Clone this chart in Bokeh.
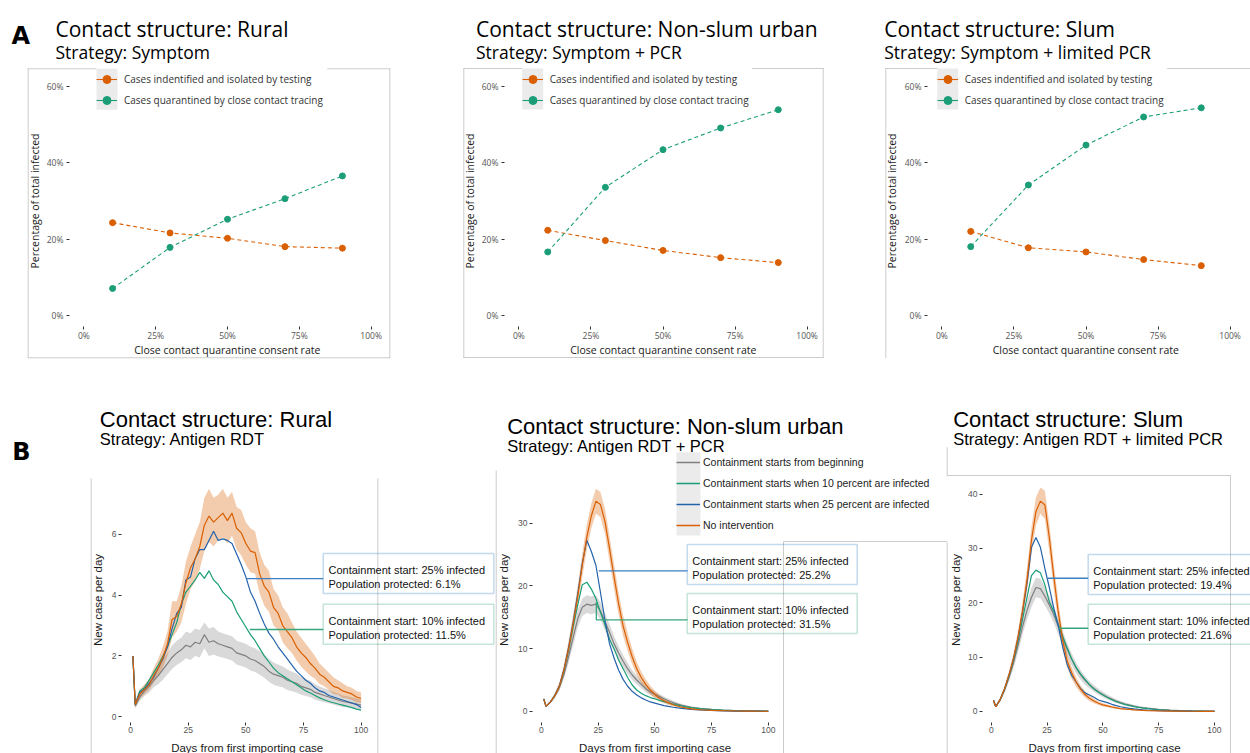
from bokeh.plotting import figure
from bokeh.models import (Range1d, FixedTicker, NumeralTickFormatter, Label,
                          BoxAnnotation, Legend, LegendItem, GridBox)
from bokeh.layouts import row, column
from bokeh.embed import file_html
from bokeh.resources import INLINE

# ============================ DATA ============================
# Panel A: share of all infections vs close-contact quarantine consent rate
consent_rate = [0.1, 0.3, 0.5, 0.7, 0.9]
consent_ticks = [0, 0.25, 0.5, 0.75, 1.0]
share_ticks = [0, 0.2, 0.4, 0.6]

rural_isolated = [0.243, 0.216, 0.202, 0.180, 0.176]
rural_quarantined = [0.070, 0.178, 0.252, 0.306, 0.366]
urban_isolated = [0.223, 0.196, 0.170, 0.151, 0.138]
urban_quarantined = [0.166, 0.336, 0.435, 0.492, 0.540]
slum_isolated = [0.220, 0.177, 0.166, 0.146, 0.130]
slum_quarantined = [0.180, 0.342, 0.447, 0.521, 0.545]

a_labels = ["Cases indentified and isolated by testing",
            "Cases quarantined by close contact tracing"]

# Panel B: new cases per day
day_ticks = [0, 25, 50, 75, 100]
b_labels = ["Containment starts from beginning",
            "Containment starts when 10 percent are infected",
            "Containment starts when 25 percent are infected",
            "No intervention"]

rural_days = [1, 2, 4, 6, 8, 10, 12, 14, 16, 18, 20, 22, 24, 26, 28, 30, 32, 34, 36, 38,
              40, 42, 44, 46, 48, 50, 52, 54, 56, 58, 60, 62, 64, 66, 68, 70, 72, 74, 76, 78,
              80, 82, 84, 86, 88, 90, 92, 94, 96, 98, 100]
rural_none = [2.0, 0.4, 0.75, 0.9, 1.05, 1.35, 1.6, 1.95, 2.4, 3.2, 3.3, 3.7, 4.4, 4.9, 5.2, 5.6,
              6.3, 6.6, 6.4, 6.55, 6.7, 6.45, 6.7, 6.2, 6.05, 5.7, 5.45, 5.4, 4.7, 4.3, 4.1, 3.6,
              3.4, 3.0, 2.8, 2.6, 2.3, 2.1, 1.95, 1.75, 1.6, 1.4, 1.3, 1.15, 1.0, 0.95, 0.85, 0.8,
              0.75, 0.65, 0.6]
rural_none_hi = [2.0, 0.5, 0.9, 1.05, 1.25, 1.6, 1.9, 2.3, 2.8, 3.8, 3.8, 4.3, 5.1, 5.6, 6.0, 6.4,
                 7.2, 7.5, 7.2, 7.3, 7.5, 7.2, 7.4, 6.9, 6.8, 6.4, 6.2, 6.1, 5.4, 5.0, 4.8, 4.2,
                 4.0, 3.6, 3.4, 3.1, 2.8, 2.6, 2.4, 2.2, 2.0, 1.75, 1.6, 1.45, 1.3, 1.2, 1.1, 1.0,
                 0.95, 0.85, 0.8]
rural_none_lo = [2.0, 0.3, 0.6, 0.75, 0.88, 1.12, 1.33, 1.62, 2.0, 2.6, 2.8, 3.1, 3.7, 4.2, 4.45,
                 4.85, 5.45, 5.75, 5.6, 5.8, 5.9, 5.7, 5.95, 5.5, 5.3, 5.0, 4.75, 4.7, 4.05, 3.65,
                 3.45, 3.0, 2.85, 2.45, 2.25, 2.1, 1.85, 1.65, 1.5, 1.35, 1.25, 1.08, 1.0, 0.88,
                 0.75, 0.72, 0.62, 0.6, 0.55, 0.48, 0.45]
rural_at25 = [2.0, 0.4, 0.8, 0.9, 1.1, 1.3, 1.6, 1.9, 2.3, 2.9, 3.4, 3.6, 4.5, 4.6, 5.2, 5.5, 5.5,
              5.8, 6.1, 5.8, 5.85, 5.8, 5.7, 5.35, 5.0, 4.6, 4.1, 3.8, 3.4, 3.05, 2.75, 2.55, 2.3,
              2.1, 1.9, 1.7, 1.5, 1.35, 1.2, 1.1, 0.95, 0.85, 0.8, 0.7, 0.65, 0.6, 0.55, 0.5,
              0.45, 0.4, 0.3]
rural_at10 = [2.0, 0.4, 0.85, 0.95, 1.2, 1.45, 1.7, 2.0, 2.3, 2.7, 3.1, 3.7, 4.1, 4.3, 4.5, 4.75,
              4.55, 4.8, 4.5, 4.35, 4.1, 3.95, 3.8, 3.45, 3.2, 2.95, 2.7, 2.5, 2.25, 2.0, 1.8,
              1.6, 1.45, 1.35, 1.25, 1.15, 1.05, 0.95, 0.85, 0.78, 0.7, 0.62, 0.56, 0.5, 0.46,
              0.42, 0.38, 0.34, 0.3, 0.25, 0.22]
rural_start = [2.0, 0.35, 0.65, 0.85, 1.0, 1.2, 1.35, 1.55, 1.75, 1.95, 2.1, 2.2, 2.35, 2.3, 2.45,
               2.4, 2.7, 2.45, 2.5, 2.4, 2.35, 2.3, 2.25, 2.1, 2.05, 2.0, 1.9, 1.85, 1.75, 1.65,
               1.5, 1.4, 1.35, 1.3, 1.2, 1.15, 1.1, 1.0, 0.95, 0.9, 0.8, 0.75, 0.7, 0.65, 0.6,
               0.55, 0.5, 0.48, 0.45, 0.42, 0.38]
rural_start_hi = [2.0, 0.45, 0.8, 1.05, 1.22, 1.45, 1.65, 1.9, 2.1, 2.35, 2.5, 2.6, 2.8, 2.75, 2.9,
                  2.85, 3.1, 2.9, 2.95, 2.8, 2.75, 2.7, 2.65, 2.5, 2.45, 2.4, 2.3, 2.25, 2.15,
                  2.05, 1.9, 1.78, 1.72, 1.65, 1.55, 1.48, 1.42, 1.3, 1.24, 1.18, 1.07, 1.0, 0.94,
                  0.88, 0.82, 0.76, 0.7, 0.67, 0.63, 0.6, 0.55]
rural_start_lo = [2.0, 0.27, 0.52, 0.68, 0.8, 0.97, 1.07, 1.22, 1.4, 1.57, 1.7, 1.8, 1.92, 1.87,
                  2.0, 1.95, 2.25, 2.0, 2.05, 1.98, 1.95, 1.9, 1.85, 1.72, 1.67, 1.62, 1.52, 1.47,
                  1.38, 1.28, 1.15, 1.05, 1.0, 0.97, 0.88, 0.84, 0.8, 0.72, 0.68, 0.64, 0.56,
                  0.52, 0.48, 0.44, 0.4, 0.36, 0.32, 0.31, 0.29, 0.26, 0.23]

city_days = [1, 2, 4, 6, 8, 10, 12, 14, 16, 18, 20, 22, 24, 26, 28, 30, 32, 34, 36, 38, 40, 42,
             44, 46, 48, 50, 52, 54, 56, 58, 60, 62, 64, 66, 68, 70, 75, 80, 85, 90, 95, 100]

urban_none = [2.0, 0.8, 1.5, 2.6, 4.1, 6.7, 10.1, 14.0, 18.3, 23.3, 27.8, 31.2, 33.5, 33.0, 30.3,
              26.0, 21.5, 17.2, 13.6, 11.0, 8.7, 6.8, 5.4, 4.3, 3.4, 2.7, 2.1, 1.7, 1.35, 1.05,
              0.85, 0.65, 0.5, 0.4, 0.3, 0.25, 0.15, 0.1, 0.06, 0.04, 0.02, 0.01]
urban_none_hi = [2.0, 0.9, 1.7, 3.0, 4.7, 7.6, 11.3, 15.5, 20.0, 25.2, 29.8, 33.2, 35.5, 35.0,
                 32.3, 28.0, 23.5, 19.0, 15.3, 12.5, 10.0, 7.9, 6.3, 5.1, 4.1, 3.3, 2.6, 2.1, 1.7,
                 1.35, 1.1, 0.85, 0.68, 0.55, 0.43, 0.36, 0.23, 0.16, 0.1, 0.07, 0.04, 0.02]
urban_none_lo = [2.0, 0.7, 1.3, 2.2, 3.5, 5.8, 8.9, 12.5, 16.6, 21.4, 25.8, 29.2, 31.5, 31.0, 28.3,
                 24.0, 19.5, 15.4, 12.0, 9.6, 7.5, 5.8, 4.5, 3.5, 2.7, 2.1, 1.6, 1.3, 1.0, 0.78,
                 0.62, 0.46, 0.34, 0.27, 0.19, 0.15, 0.08, 0.05, 0.03, 0.02, 0.01, 0.0]
urban_at25 = [2.0, 0.8, 1.5, 2.6, 4.2, 6.8, 10.3, 14.3, 18.8, 23.6, 27.3, 25.5, 23.3, 19.0, 14.5,
              10.8, 8.5, 6.6, 5.1, 4.0, 3.2, 2.6, 2.15, 1.8, 1.5, 1.3, 1.1, 0.92, 0.78, 0.65,
              0.55, 0.46, 0.38, 0.32, 0.27, 0.22, 0.14, 0.09, 0.05, 0.03, 0.02, 0.01]
urban_at10 = [2.0, 0.8, 1.5, 2.6, 4.1, 6.6, 9.9, 13.5, 17.0, 20.2, 20.6, 19.5, 18.0, 15.8, 13.8,
              11.5, 10.0, 8.2, 6.8, 5.4, 4.2, 3.4, 2.9, 2.5, 2.2, 2.0, 1.75, 1.55, 1.35, 1.15,
              1.0, 0.85, 0.72, 0.6, 0.5, 0.42, 0.28, 0.18, 0.1, 0.06, 0.03, 0.02]
urban_start = [2.0, 0.8, 1.5, 2.5, 3.9, 6.0, 8.8, 11.8, 14.8, 16.6, 17.1, 16.9, 17.1, 16.0, 14.3,
               12.6, 10.8, 9.3, 8.0, 6.8, 5.8, 5.0, 4.3, 3.6, 3.1, 2.7, 2.35, 2.0, 1.7, 1.4,
               1.15, 0.95, 0.8, 0.65, 0.55, 0.45, 0.3, 0.18, 0.1, 0.06, 0.04, 0.02]
urban_start_hi = [2.0, 0.9, 1.7, 2.8, 4.4, 6.7, 9.8, 13.0, 16.2, 18.0, 18.5, 18.3, 18.5, 17.4,
                  15.7, 13.9, 12.0, 10.4, 9.0, 7.7, 6.6, 5.7, 4.9, 4.2, 3.6, 3.15, 2.75, 2.35,
                  2.0, 1.68, 1.4, 1.17, 0.98, 0.82, 0.7, 0.58, 0.4, 0.25, 0.15, 0.09, 0.06, 0.03]
urban_start_lo = [2.0, 0.7, 1.3, 2.2, 3.4, 5.3, 7.8, 10.6, 13.4, 15.2, 15.7, 15.5, 15.7, 14.6,
                  12.9, 11.3, 9.6, 8.2, 7.0, 5.9, 5.0, 4.3, 3.7, 3.0, 2.6, 2.25, 1.95, 1.65, 1.4,
                  1.12, 0.9, 0.73, 0.62, 0.48, 0.4, 0.32, 0.2, 0.11, 0.05, 0.03, 0.02, 0.01]

slum_none = [2.0, 0.85, 2.2, 4.2, 6.8, 9.8, 13.7, 18.5, 24.2, 31.5, 36.8, 38.7, 38.0, 32.0, 24.8,
             18.3, 13.0, 9.3, 7.1, 5.4, 4.1, 3.1, 2.4, 1.9, 1.5, 1.2, 1.0, 0.8, 0.65, 0.5, 0.42,
             0.35, 0.28, 0.23, 0.19, 0.15, 0.1, 0.06, 0.04, 0.02, 0.01, 0.01]
slum_none_hi = [2.0, 0.95, 2.5, 4.7, 7.5, 10.8, 15.0, 20.2, 26.3, 34.0, 39.4, 41.2, 40.6, 34.6,
                27.2, 20.3, 14.6, 10.6, 8.2, 6.3, 4.8, 3.7, 2.9, 2.3, 1.85, 1.5, 1.25, 1.02, 0.84,
                0.67, 0.56, 0.47, 0.38, 0.31, 0.26, 0.21, 0.14, 0.09, 0.06, 0.03, 0.02, 0.02]
slum_none_lo = [2.0, 0.75, 1.9, 3.7, 6.1, 8.8, 12.4, 16.8, 22.1, 29.0, 34.2, 36.4, 35.4, 29.4,
                22.4, 16.3, 11.4, 8.0, 6.0, 4.5, 3.4, 2.5, 1.9, 1.5, 1.15, 0.9, 0.75, 0.58, 0.46,
                0.33, 0.28, 0.23, 0.18, 0.15, 0.12, 0.09, 0.06, 0.03, 0.02, 0.01, 0.0, 0.0]
slum_at25 = [2.0, 0.85, 2.2, 4.2, 6.8, 9.8, 13.6, 18.3, 23.5, 30.2, 32.0, 30.2, 26.3, 22.8, 19.0,
             15.8, 11.8, 8.6, 6.6, 5.4, 4.2, 3.4, 3.0, 2.6, 2.1, 1.85, 1.6, 1.3, 1.05, 0.85, 0.7,
             0.55, 0.45, 0.37, 0.3, 0.25, 0.15, 0.09, 0.05, 0.03, 0.02, 0.01]
slum_at10 = [2.0, 0.85, 2.2, 4.1, 6.6, 9.5, 13.0, 17.0, 21.0, 25.0, 26.0, 25.5, 23.3, 20.2, 18.4,
             16.0, 13.8, 11.7, 9.7, 8.1, 6.9, 5.9, 4.9, 4.1, 3.5, 3.0, 2.55, 2.15, 1.8, 1.5,
             1.25, 1.05, 0.88, 0.72, 0.6, 0.5, 0.3, 0.18, 0.1, 0.06, 0.03, 0.02]
slum_start = [2.0, 0.85, 2.1, 4.0, 6.3, 9.0, 12.2, 15.6, 18.6, 21.0, 22.8, 22.6, 21.2, 19.6, 17.8,
              15.6, 13.5, 11.4, 9.6, 8.0, 6.7, 5.7, 4.9, 4.2, 3.6, 3.1, 2.65, 2.25, 1.9, 1.6,
              1.35, 1.15, 0.95, 0.8, 0.68, 0.58, 0.36, 0.22, 0.13, 0.08, 0.05, 0.03]
slum_start_hi = [2.0, 0.95, 2.4, 4.5, 7.0, 10.0, 13.5, 17.1, 20.3, 22.8, 24.6, 24.4, 22.9, 21.2,
                 19.3, 17.0, 14.8, 12.6, 10.7, 9.0, 7.6, 6.5, 5.6, 4.8, 4.15, 3.6, 3.1, 2.65,
                 2.25, 1.9, 1.62, 1.39, 1.16, 0.98, 0.84, 0.72, 0.46, 0.29, 0.18, 0.11, 0.07, 0.04]
slum_start_lo = [2.0, 0.75, 1.8, 3.5, 5.6, 8.0, 10.9, 14.1, 16.9, 19.2, 21.0, 20.8, 19.5, 18.0,
                 16.3, 14.2, 12.2, 10.2, 8.5, 7.0, 5.8, 4.9, 4.2, 3.6, 3.05, 2.6, 2.2, 1.85, 1.55,
                 1.3, 1.08, 0.91, 0.74, 0.62, 0.52, 0.44, 0.26, 0.15, 0.08, 0.05, 0.03, 0.02]

# annotation boxes: where the leader leaves the curve (day, cases) and the numbers shown
protected_25 = ["6.1%", "25.2%", "19.4%"]
protected_10 = ["11.5%", "31.5%", "21.6%"]
anchor_25 = [(50.0, 4.54), (25.3, 22.4), (25.4, 24.5)]
anchor_10 = [(51.7, 2.87, 2.87), (24.2, 17.4, 14.6), (30.2, 15.3, 15.3)]

# ============================ STYLE ============================
ORANGE = "#d95f02"
GREEN = "#1b9e77"
BLUE = "#2463ab"
GREY = "#7f7f7f"
BOX_BLUE = "#3a80c2"
BOX_GREEN = "#37a67c"
RULE = "#cccccc"
KEY_BG = "#ebebeb"
TOP_FONT = "Open Sans"
BOT_FONT = "Liberation Sans"
LETTER_FONT = "DejaVu Sans"
PAGE_W, PAGE_H = 1250, 753


class Frame:
    """Maps canvas pixels of a figure to its data coordinates."""
    def __init__(self, W, H, L, R, T, B, xr, yr):
        self.W, self.H, self.L, self.R, self.T, self.B = W, H, L, R, T, B
        self.xr, self.yr = xr, yr
        self.kx = (xr[1] - xr[0]) / (W - L - R)
        self.ky = (yr[1] - yr[0]) / (H - T - B)

    def x(self, cx):
        return self.xr[0] + (cx - self.L) * self.kx

    def y(self, cy):
        return self.yr[1] - (cy - self.T) * self.ky


def base_figure(fr, font, tick_size):
    p = figure(width=fr.W, height=fr.H, min_border_left=fr.L, min_border_right=fr.R,
               min_border_top=fr.T, min_border_bottom=fr.B,
               x_range=Range1d(*fr.xr), y_range=Range1d(*fr.yr),
               output_backend="svg", toolbar_location=None, tools="")
    p.outline_line_color = None
    p.xgrid.grid_line_color = None
    p.ygrid.grid_line_color = None
    p.background_fill_alpha = 0.0
    p.border_fill_alpha = 0.0
    p.axis.axis_line_color = None
    p.axis.major_tick_line_color = "#333333"
    p.axis.major_tick_out = 3
    p.axis.major_tick_in = 0
    p.axis.minor_tick_line_color = None
    p.axis.major_label_text_font = font
    p.axis.major_label_text_font_size = tick_size
    p.axis.major_label_text_color = "#555555"
    p.axis.axis_label_text_font = font
    p.axis.axis_label_text_font_style = "normal"
    p.axis.axis_label_text_color = "#1a1a1a"
    return p


# ---------- page-level layer for titles, panel rules, legends and call-out boxes ----------
deco = figure(width=PAGE_W, height=PAGE_H, x_range=Range1d(0, PAGE_W),
              y_range=Range1d(PAGE_H, 0), min_border=0, output_backend="svg",
              toolbar_location=None, tools="", x_axis_location=None, y_axis_location=None)
deco.outline_line_color = None
deco.grid.visible = False
deco.background_fill_color = "white"
deco.border_fill_color = "white"


def text(x, y, s, size, font, color="#000000", style="normal", align="left"):
    deco.add_layout(Label(x=x, y=y, text=s, text_font=font, text_font_size=size,
                          text_font_style=style, text_color=color, text_align=align,
                          text_baseline="alphabetic"))


def rect(x0, x1, y0, y1, color=RULE):
    deco.add_layout(BoxAnnotation(left=x0, right=x1, top=y0, bottom=y1,
                                  fill_color=color, fill_alpha=1.0, line_alpha=0.0))


def hrule(x0, x1, y):
    rect(x0, x1, y - 0.5, y + 0.5)


def vrule(x, y0, y1):
    rect(x - 0.5, x + 0.5, y0, y1)


def outline_box(x0, x1, y0, y1, color):
    deco.add_layout(BoxAnnotation(left=x0, right=x1, top=y0, bottom=y1, fill_alpha=0.0,
                                  line_color=color, line_width=1.5))


def legend(items, left, bottom, glyph_w, standoff, font, size, color):
    leg_items = []
    for lab, rs in items:
        leg_items.append(LegendItem(label=lab, renderers=rs))
    deco.add_layout(Legend(items=leg_items, location=(left, PAGE_H - bottom),
                           orientation="vertical", padding=0, margin=0, spacing=1,
                           glyph_height=20, glyph_width=glyph_w, label_height=20,
                           label_standoff=standoff, label_text_font=font,
                           label_text_font_size=size, label_text_color=color,
                           background_fill_alpha=0.0, border_line_alpha=0.0))


# legend proxies (kept outside the visible page area)
def proxy_line(color, width):
    return deco.line([-60, -40], [-60, -60], line_color=color, line_width=width)


def proxy_dot(color):
    return deco.scatter([-50], [-60], size=6, fill_color=color, line_color=color)


# ============================ PANEL A ============================
def top_panel(W, L, R, iso, quar, ylab_standoff):
    fr = Frame(W, 380, L, R, 75, 54, (-0.05, 1.05), (-0.03, 0.63))
    p = base_figure(fr, TOP_FONT, "8.5px")
    p.xaxis.ticker = FixedTicker(ticks=consent_ticks)
    p.yaxis.ticker = FixedTicker(ticks=share_ticks)
    p.xaxis.formatter = NumeralTickFormatter(format="0%")
    p.yaxis.formatter = NumeralTickFormatter(format="0%")
    p.yaxis.axis_label = "Percentage of total infected"
    p.yaxis.axis_label_text_font_size = "10.5px"
    p.xaxis.major_label_standoff = 0
    p.yaxis.major_label_standoff = 3
    p.yaxis.axis_label_standoff = ylab_standoff
    p.line(consent_rate, iso, line_color=ORANGE, line_width=1.1, line_dash="4 3")
    p.scatter(consent_rate, iso, size=6, fill_color=ORANGE, line_color=ORANGE)
    p.line(consent_rate, quar, line_color=GREEN, line_width=1.1, line_dash="4 3")
    p.scatter(consent_rate, quar, size=6, fill_color=GREEN, line_color=GREEN)
    return p


a1 = top_panel(440, 69, 55, rural_isolated, rural_quarantined, 2)
a2 = top_panel(422, 64, 41, urban_isolated, urban_quarantined, 2)
a3 = top_panel(388, 65, 6, slum_isolated, slum_quarantined, 3)

# panel A decorations (page pixels)
text(11, 35, "A", "24px", LETTER_FONT, style="bold")
a_titles = [("Contact structure: Rural", "Strategy: Symptom", 55.0, 226.8),
            ("Contact structure: Non-slum urban", "Strategy: Symptom + PCR", 475.5, 662.8),
            ("Contact structure: Slum", "Strategy: Symptom + limited PCR", 883.7, 1085.3)]
for t, s, x, xc in a_titles:
    text(x, 28.3, t, "21px", TOP_FONT)
    text(x, 51.7, s, "17.5px", TOP_FONT)
    text(xc, 349.8, "Close contact quarantine consent rate", "10.5px", TOP_FONT,
         color="#1a1a1a", align="center")

a_boxes = [(27.7, 389.3, 68.3, 357.3, 96.0, 326.7, True),
           (463.3, 822.7, 68.0, 357.0, 521.7, 751.7, True),
           (885.3, 1260.0, 68.0, 357.0, 936.7, 1166.7, False)]
for x0, x1, y0, y1, key_x, gap_end, bottom in a_boxes:
    vrule(x0, y0 - 0.5, y1 + 0.5)
    vrule(x1, y0 - 0.5, y1 + 0.5)
    hrule(x0 - 0.5, key_x, y0)
    hrule(gap_end, x1 + 0.5, y0)
    if bottom:
        hrule(x0 - 0.5, x1 + 0.5, y1)
    rect(key_x, key_x + 21, y0, y0 + 41, color=KEY_BG)
    legend([(a_labels[0], [proxy_line(ORANGE, 1.1), proxy_dot(ORANGE)]),
            (a_labels[1], [proxy_line(GREEN, 1.1), proxy_dot(GREEN)])],
           key_x, y0 + 42, 21, 7, TOP_FONT, "10px", "#333333")


# ============================ PANEL B ============================
def bottom_panel(idx, W, L, R, T, B, yr, yticks, days, start, start_lo, start_hi, at10, at25,
                 none, none_lo, none_hi, ylab_standoff, box_left_canvas):
    fr = Frame(W, 373, L, R, T, B, (-3.95, 104.95), yr)
    p = base_figure(fr, BOT_FONT, "8.5px")
    p.xaxis.ticker = FixedTicker(ticks=day_ticks)
    p.yaxis.ticker = FixedTicker(ticks=yticks)
    p.yaxis.axis_label = "New case per day"
    p.yaxis.axis_label_text_font_size = "11.5px"
    p.yaxis.axis_label_standoff = ylab_standoff
    p.xaxis.major_label_standoff = 1
    p.yaxis.major_label_standoff = 2

    p.varea(x=days, y1=start_lo, y2=start_hi, fill_color="#9a9a9a", fill_alpha=0.38)
    p.varea(x=days, y1=none_lo, y2=none_hi, fill_color=ORANGE, fill_alpha=0.32)
    p.line(days, start, line_color=GREY, line_width=1.2)
    p.line(days, at10, line_color=GREEN, line_width=1.2)
    p.line(days, at25, line_color=BLUE, line_width=1.2)
    p.line(days, none, line_color=ORANGE, line_width=1.2)

    # leader lines from the curves to the call-out boxes
    bx = fr.x(box_left_canvas)
    d25, v25 = anchor_25[idx]
    p.line([d25, bx], [v25, v25], line_color=BOX_BLUE, line_width=1.3)
    d10, v10a, v10b = anchor_10[idx]
    p.line([d10, d10, bx], [v10a, v10b, v10b], line_color=BOX_GREEN, line_width=1.3)
    return p


b1 = bottom_panel(0, 495, 121, 123, 95, 30, (-0.19, 7.87), [0, 2, 4, 6], rural_days,
                  rural_start, rural_start_lo, rural_start_hi, rural_at10, rural_at25,
                  rural_none, rural_none_lo, rural_none_hi, 5, 322.7)
b2 = bottom_panel(1, 450, 36, 166, 93, 31, (-1.78, 37.3), [0, 10, 20, 30], city_days,
                  urban_start, urban_start_lo, urban_start_hi, urban_at10, urban_at25,
                  urban_none, urban_none_lo, urban_none_hi, 5, 191.7)
b3 = bottom_panel(2, 305, 37, 25, 97, 31, (-2.05, 43.05), [0, 10, 20, 30, 40], city_days,
                  slum_start, slum_start_lo, slum_start_hi, slum_at10, slum_at25,
                  slum_none, slum_none_lo, slum_none_hi, 3, 142.7)

# panel B decorations (page pixels)
text(11.7, 451.7, "B", "24px", LETTER_FONT, style="bold")
b_titles = [("Contact structure: Rural", "Strategy: Antigen RDT", 99.3, 419.3),
            ("Contact structure: Non-slum urban", "Strategy: Antigen RDT + PCR", 506.7, 426.0),
            ("Contact structure: Slum", "Strategy: Antigen RDT + limited PCR", 952.7, 419.3)]
for t, s, x, y in b_titles:
    text(x, y, t, "22px", BOT_FONT)
    text(x, y + 19.5, s, "16.5px", BOT_FONT)

for cx in [246.7, 654.5, 1104.0]:
    text(cx, 747.5, "Days from first importing case", "11.5px", BOT_FONT, color="#1a1a1a",
         align="center")

# panel rules
vrule(90.7, 478, 753)
vrule(377.3, 478, 753)
vrule(495.7, 470, 753)
vrule(783.0, 541, 753)
hrule(783.0, 946.7, 541)
vrule(946.7, 446.7, 475)
vrule(946.7, 541.7, 753)
hrule(946.2, 1230.5, 475)
vrule(1230.0, 475, 753)

# legend of panel B
rect(676, 700, 451.7, 535, color=KEY_BG)
legend([(lab, [proxy_line(col, 1.5)]) for lab, col in zip(b_labels, [GREY, GREEN, BLUE, ORANGE])],
       676, 535, 24, 3, BOT_FONT, "10.5px", "#222222")

# call-out boxes
c_boxes = [(322.7, 493.3, 553.0, 603.7, 328.0),
           (686.7, 856.7, 544.0, 593.0, 691.7),
           (1087.7, 1265.0, 554.0, 603.7, 1092.7)]
for i, (x0, x1, top25, top10, tx) in enumerate(c_boxes):
    outline_box(x0, x1, top25, top25 + 40, BOX_BLUE)
    text(tx, top25 + 16.3, "Containment start: 25% infected", "11px", BOT_FONT, "#111111")
    text(tx, top25 + 30.3, "Population protected: " + protected_25[i], "11px", BOT_FONT,
         "#111111")
    outline_box(x0, x1, top10, top10 + 40, BOX_GREEN)
    text(tx, top10 + 16.3, "Containment start: 10% infected", "11px", BOT_FONT, "#111111")
    text(tx, top10 + 30.3, "Population protected: " + protected_10[i], "11px", BOT_FONT,
         "#111111")

charts = column(row(a1, a2, a3), row(b1, b2, b3))
page = GridBox(children=[(deco, 0, 0), (charts, 0, 0)])
open("out.html", "w").write(file_html(page, INLINE))
